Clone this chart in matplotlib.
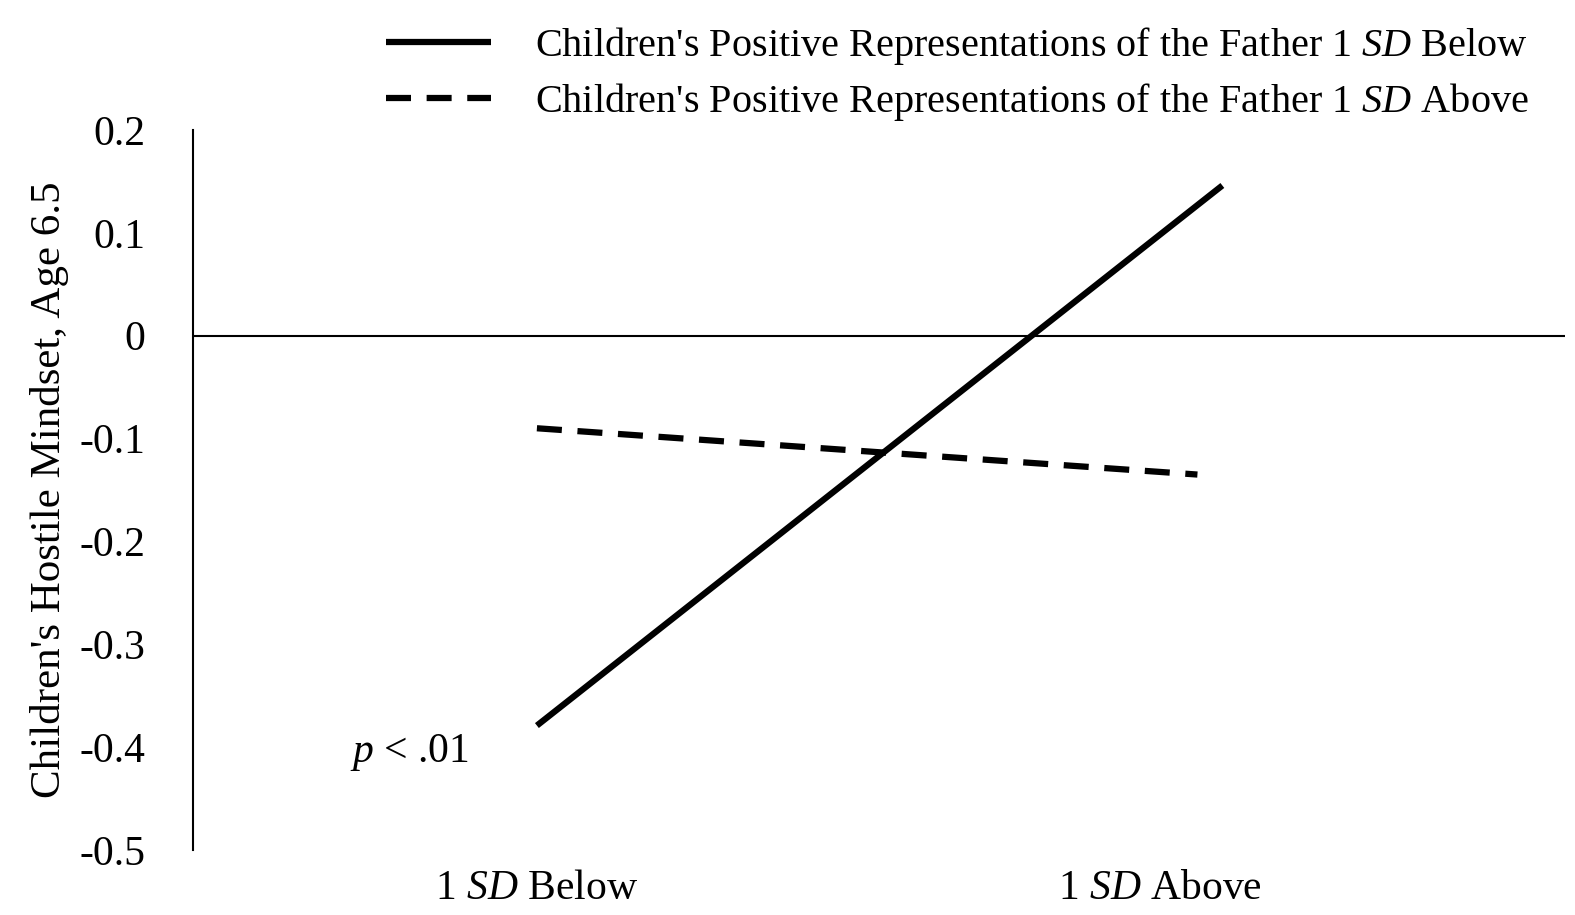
import matplotlib
matplotlib.use("Agg")
import matplotlib.pyplot as plt

plt.rcParams['font.family'] = ['Liberation Serif', 'DejaVu Serif']
plt.rcParams['mathtext.fontset'] = 'custom'
plt.rcParams['mathtext.rm'] = 'Liberation Serif'
plt.rcParams['mathtext.it'] = 'Liberation Serif:italic'

categories = ["1 $\\it{SD}$ Below", "1 $\\it{SD}$ Above"]
cat_pos = [0, 1]
solid_x = [0, 1.1]
solid_y = [-0.379, 0.146]
dashed_x = [0, 1.06]
dashed_y = [-0.090, -0.135]
labels = ["Children's Positive Representations of the Father 1 $\\it{SD}$ Below",
          "Children's Positive Representations of the Father 1 $\\it{SD}$ Above"]
yticks = [0.2, 0.1, 0, -0.1, -0.2, -0.3, -0.4, -0.5]

fig = plt.figure(figsize=(15.75, 9.15), dpi=100)
ax = fig.add_axes([0.1225, 0.071, 0.8712, 0.787])
ax.plot(solid_x, solid_y, color='black', lw=4.5, label=labels[0], solid_capstyle='butt')
ax.plot(dashed_x, dashed_y, color='black', lw=4.5, ls=(0, (4, 2.5)), label=labels[1])
ax.axhline(0, color='black', lw=1.5)
ax.set_xlim(-0.552, 1.65)
ax.set_ylim(-0.5, 0.2)
ax.set_yticks(yticks)
ax.set_yticklabels([f"{v:g}" for v in yticks])
ax.set_xticks(cat_pos)
ax.set_xticklabels(categories)
for s in ['top', 'right', 'bottom']:
    ax.spines[s].set_visible(False)
ax.spines['left'].set_linewidth(1.5)
ax.tick_params(axis='y', length=0, labelsize=30, pad=34)
ax.tick_params(axis='x', length=0, labelsize=30, pad=14)
ax.set_ylabel("Children's Hostile Mindset, Age 6.5", fontsize=31, labelpad=8)
ax.text(-0.30, -0.405, "$\\it{p}$ < .01", fontsize=30, ha='left', va='center')
ax.legend(loc='upper left', bbox_to_anchor=(0.222, 1.012), bbox_transform=fig.transFigure,
          frameon=False, fontsize=29, handlelength=2.6, handletextpad=1.1, labelspacing=0.35)
fig.savefig("out.png", dpi=100)
